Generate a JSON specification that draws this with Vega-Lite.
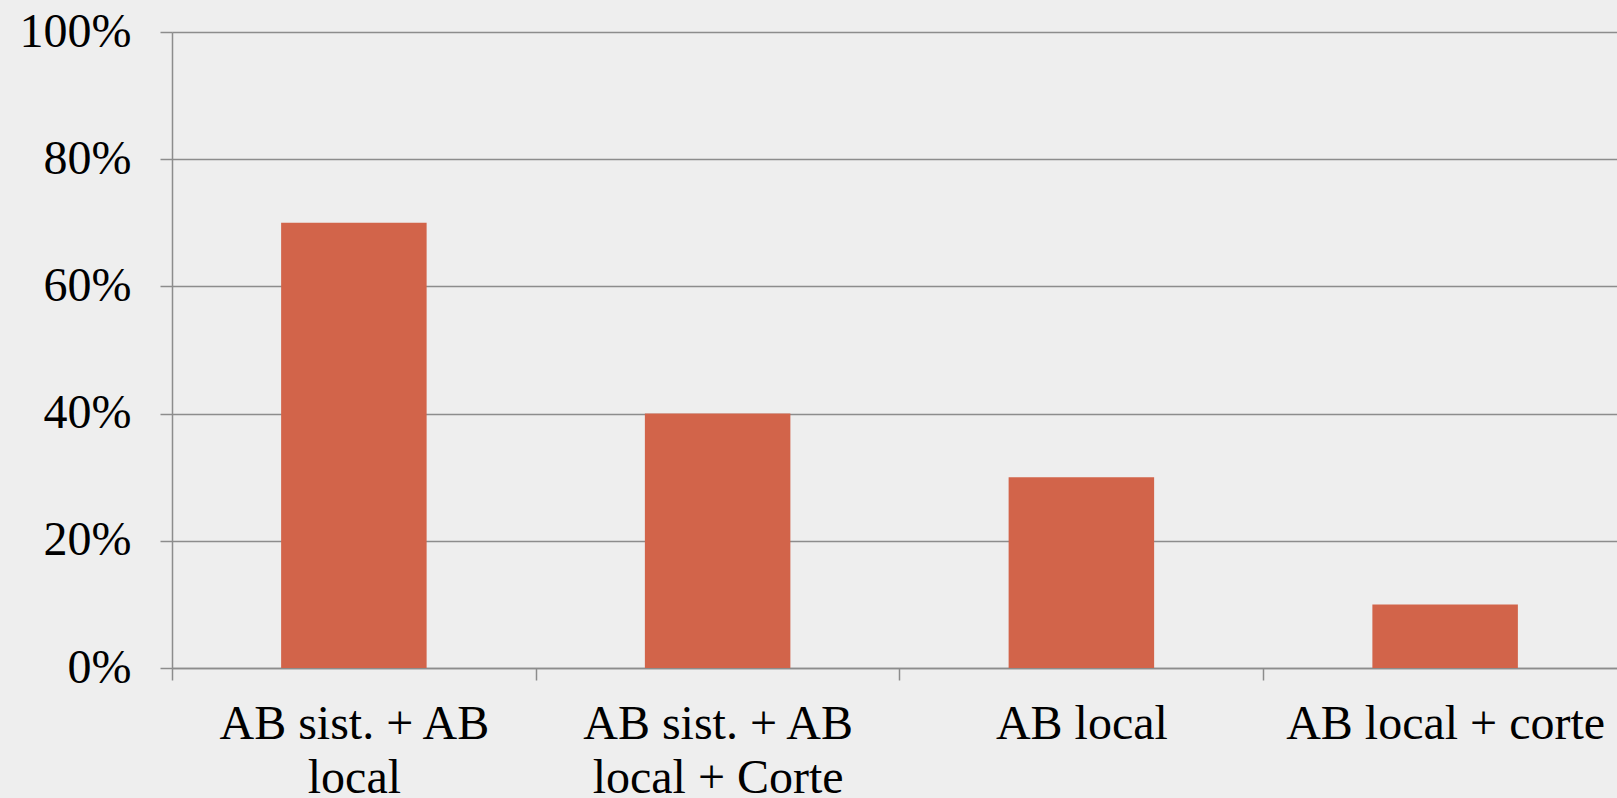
{
  "$schema": "https://vega.github.io/schema/vega-lite/v6.json",
  "width": 1445,
  "height": 636,
  "autosize": {"type": "none"},
  "padding": {"left": 172, "top": 32, "right": 0, "bottom": 130},
  "background": "#eeeeee",
  "config": {
    "view": {"stroke": null},
    "font": "Liberation Serif",
    "axis": {
      "labelFont": "Liberation Serif",
      "labelFontSize": 48,
      "labelColor": "#000000",
      "labelLimit": 0,
      "domainColor": "#8c8c8c",
      "domainWidth": 1.5,
      "tickColor": "#8c8c8c",
      "tickWidth": 1.5,
      "tickSize": 12,
      "gridColor": "#8c8c8c",
      "gridWidth": 1.5
    }
  },
  "data": {
    "values": [
      {"categoria": "AB sist. + AB|local", "valor": 0.70},
      {"categoria": "AB sist. + AB|local + Corte", "valor": 0.40},
      {"categoria": "AB local", "valor": 0.30},
      {"categoria": "AB local + corte", "valor": 0.10}
    ]
  },
  "mark": {"type": "bar", "color": "#d2644a"},
  "encoding": {
    "x": {
      "field": "categoria",
      "type": "nominal",
      "sort": null,
      "title": null,
      "scale": {"paddingInner": 0.6, "paddingOuter": 0.3, "range": [0, 1455]},
      "axis": {
        "labelAngle": 0,
        "tickOffset": -181.9,
        "labelOffset": 181.9,
        "labelPadding": 20,
        "labelBaseline": "top",
        "labelLineHeight": 54,
        "labelExpr": "split(datum.label, '|')",
        "grid": false
      }
    },
    "y": {
      "field": "valor",
      "type": "quantitative",
      "title": null,
      "scale": {"domain": [0, 1]},
      "axis": {
        "values": [0, 0.2, 0.4, 0.6, 0.8, 1],
        "format": ".0%",
        "labelPadding": 29,
        "grid": true
      }
    }
  }
}
